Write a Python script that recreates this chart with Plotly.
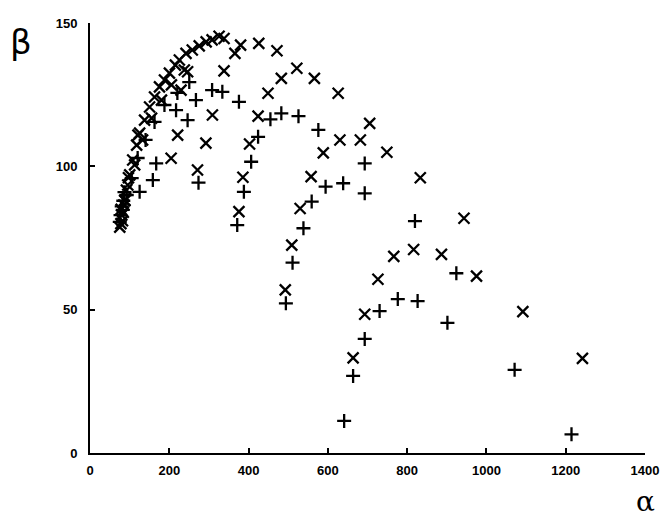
import plotly.graph_objects as go

# "x" series (alpha, beta)
x_alpha = [75.1, 80.1, 85.1, 91.9, 100.2, 107.7, 117.7, 125.2, 137.7, 150.3, 162.8, 175.3, 187.8,
           200.4, 215.4, 225.4, 242.2, 258.0, 275.5, 293.0, 308.0, 325.6, 338.1,
           365.6, 379.9, 425.7, 471.6,
           521.7, 566.0, 626.0, 705.5, 748.8, 833.2, 943.4, 975.0, 1091.9, 1242.2,
           338.1, 482.6, 630.4, 682.0, 886.6, 816.4, 766.3, 726.3, 693.0, 663.7,
           449.0, 424.0, 402.5, 385.7, 375.7,
           588.5, 557.7, 530.0, 509.0, 492.6,
           246.2, 308.8, 292.3, 271.2, 204.6, 221.1, 229.6, 121.0,
           87.6, 95.2, 112.7, 132.7, 155.3, 180.3, 205.4, 237.9,
           78.0, 82.0, 78.5, 88.0, 84.0, 97.0]
x_beta = [78.8, 83.0, 86.5, 91.7, 97.0, 102.2, 107.4, 111.6, 116.1, 120.7, 124.2, 127.7, 130.1,
          132.5, 135.3, 137.1, 139.4, 140.6, 142.0, 143.4, 144.1, 145.4, 144.6,
          139.4, 142.3, 142.9, 140.3,
          134.2, 130.7, 125.5, 115.0, 104.9, 96.0, 81.9, 61.7, 49.3, 33.0,
          133.3, 130.7, 109.2, 109.2, 69.3, 71.0, 68.6, 60.6, 48.4, 33.2,
          125.5, 117.5, 107.8, 96.2, 84.2,
          104.7, 96.4, 85.3, 72.5, 56.9,
          133.0, 117.9, 108.1, 98.7, 102.8, 110.9, 126.6, 110.9,
          88.2, 93.5, 100.5, 109.2, 116.8, 123.1, 128.4, 133.6,
          80.0, 81.0, 85.0, 88.0, 84.0, 96.0]

# "+" series (alpha, beta)
p_alpha = [333.8, 375.7, 455.1, 482.6, 525.9, 576.0, 424.0, 406.5, 388.2, 371.4,
           594.3, 638.6, 559.2, 538.4, 510.9, 494.1,
           693.0, 693.0, 819.7, 924.1, 776.4, 826.4, 730.5, 901.6, 693.0, 663.7, 641.1, 1071.1, 1214.6,
           267.2, 308.0, 217.1, 246.2, 273.7, 158.5, 167.0, 125.2,
           75.1, 82.6, 92.7, 105.2, 120.2, 140.2, 162.8, 187.8, 220.4, 250.4,
           77.0, 80.0, 84.0, 87.0]
p_beta = [126.0, 122.5, 116.4, 118.5, 117.5, 112.7, 110.3, 101.6, 91.1, 79.5,
          92.9, 94.1, 87.7, 78.4, 66.4, 52.2,
          101.0, 90.6, 80.9, 62.7, 53.7, 53.0, 49.5, 45.4, 39.8, 26.9, 11.2, 29.0, 6.5,
          123.1, 126.6, 119.6, 116.1, 94.3, 95.2, 101.0, 91.1,
          80.6, 84.8, 90.0, 95.9, 102.9, 109.2, 115.5, 121.4, 125.6, 129.4,
          83.0, 86.0, 88.0, 91.0]

x_ticks = [0, 200, 400, 600, 800, 1000, 1200, 1400]
y_ticks = [0, 50, 100, 150]

fig = go.Figure()
fig.add_trace(go.Scatter(
    x=x_alpha, y=x_beta, mode="markers", name="x",
    marker=dict(symbol="x-thin", size=11, color="black",
                line=dict(width=2.3, color="black"))))
fig.add_trace(go.Scatter(
    x=p_alpha, y=p_beta, mode="markers", name="+",
    marker=dict(symbol="cross-thin", size=10, color="black",
                line=dict(width=2.3, color="black"))))

tickfont = dict(family="Liberation Sans Narrow, Arial Narrow, sans-serif", size=13,
                color="black", weight="bold")

fig.update_layout(
    width=671, height=523,
    margin=dict(l=90, r=22, t=23, b=70),
    paper_bgcolor="white", plot_bgcolor="white",
    showlegend=False,
    xaxis=dict(range=[0, 1400], tickvals=x_ticks, ticktext=[str(t) for t in x_ticks],
               showgrid=False, zeroline=False, showline=True, linecolor="black",
               linewidth=2, ticks="inside", ticklen=5, tickwidth=2, tickcolor="black",
               tickfont=tickfont, ticklabelstandoff=4),
    yaxis=dict(range=[0, 150], tickvals=y_ticks, ticktext=[str(t) for t in y_ticks],
               showgrid=False, zeroline=False, showline=True, linecolor="black",
               linewidth=2, ticks="inside", ticklen=5, tickwidth=2, tickcolor="black",
               tickfont=tickfont, ticklabelstandoff=8),
    annotations=[
        dict(text="β", xref="paper", yref="paper", x=-0.125, y=0.955,
             showarrow=False, font=dict(family="DejaVu Sans", size=34, color="black"),
             xanchor="center", yanchor="middle"),
        dict(text="α", xref="paper", yref="paper", x=1.0, y=-0.112,
             showarrow=False, font=dict(family="DejaVu Serif", size=28, color="black"),
             xanchor="center", yanchor="middle", borderpad=0),
    ],
)

fig.write_html("out.html")
